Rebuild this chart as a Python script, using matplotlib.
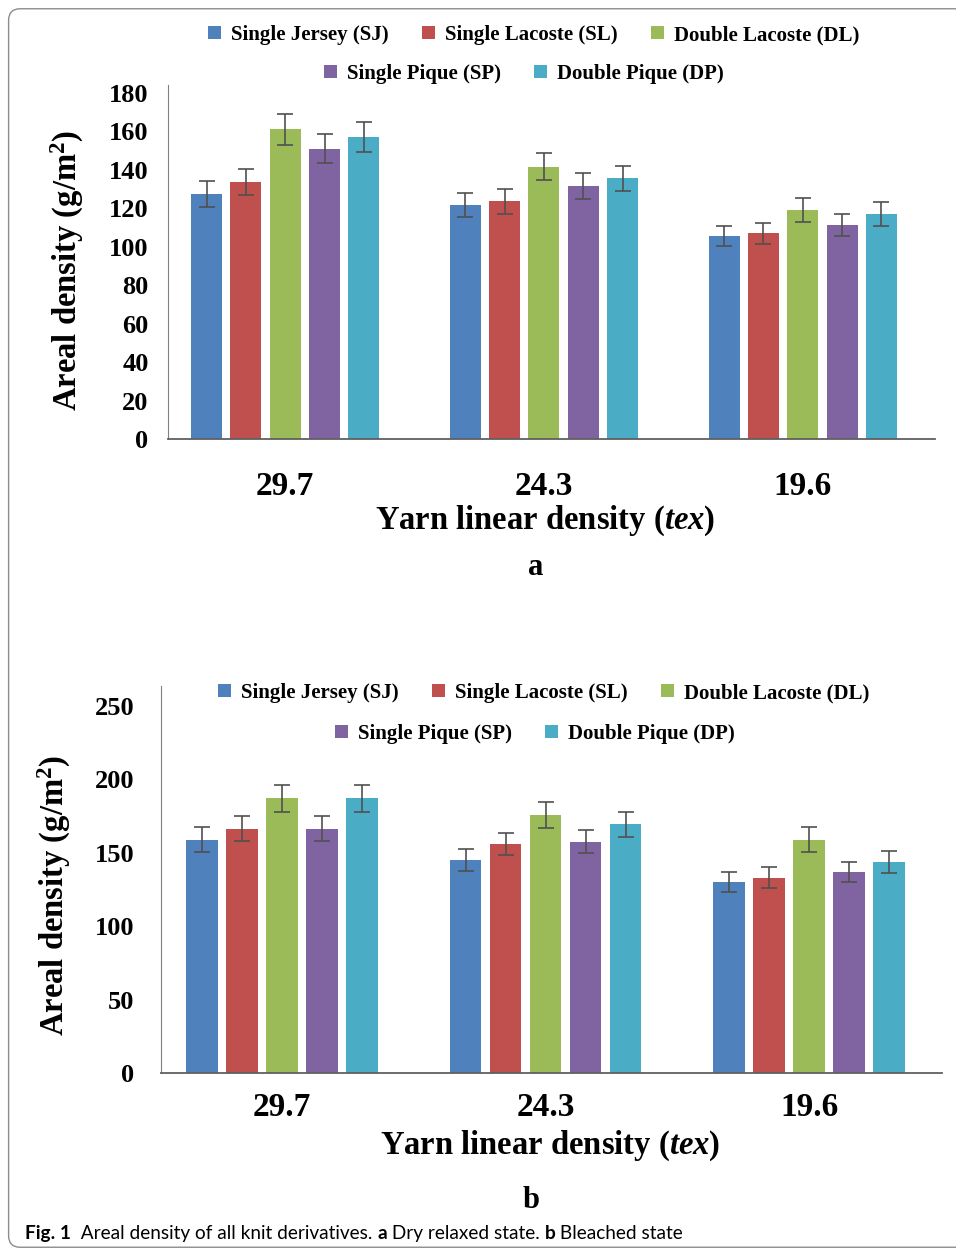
import numpy as np
import matplotlib
matplotlib.use("Agg")
import matplotlib.pyplot as plt
from matplotlib.patches import FancyBboxPatch

plt.rcParams['font.family'] = ['Liberation Serif', 'DejaVu Serif']
plt.rcParams['font.weight'] = 'bold'
plt.rcParams['mathtext.fontset'] = 'custom'
plt.rcParams['mathtext.rm'] = 'Liberation Serif:bold'
plt.rcParams['mathtext.bfit'] = 'Liberation Serif:italic:bold'
plt.rcParams['mathtext.it'] = 'Liberation Serif:italic:bold'

# yarn linear density groups (tex)
groups = ['29.7', '24.3', '19.6']
structures = ['Single Jersey (SJ)', 'Single Lacoste (SL)', 'Double Lacoste (DL)',
              'Single Pique (SP)', 'Double Pique (DP)']
colors = ['#4F81BD', '#C0504D', '#9BBB59', '#8064A2', '#4BACC6']

# (a) dry relaxed state
dry_sj = [127.5, 121.5, 105.5]
dry_sl = [133.5, 123.5, 107.0]
dry_dl = [161.0, 141.5, 119.0]
dry_sp = [151.0, 131.5, 111.5]
dry_dp = [157.0, 135.5, 117.0]
dry_err_sj = [6.8, 6.3, 5.4]
dry_err_sl = [6.7, 6.3, 5.4]
dry_err_dl = [8.2, 7.0, 6.4]
dry_err_sp = [7.5, 6.8, 5.7]
dry_err_dp = [7.9, 6.6, 6.0]

# (b) bleached state
bl_sj = [159.0, 145.0, 130.0]
bl_sl = [166.5, 156.0, 133.0]
bl_dl = [187.0, 175.5, 159.0]
bl_sp = [166.5, 157.5, 137.0]
bl_dp = [187.0, 169.5, 143.5]
bl_err_sj = [8.3, 7.5, 6.6]
bl_err_sl = [8.4, 7.8, 7.1]
bl_err_dl = [9.5, 8.8, 8.3]
bl_err_sp = [8.4, 7.7, 6.8]
bl_err_dp = [9.5, 8.6, 7.5]


def draw_panel(ax, vals, errs, ymax, yticks):
    x = np.arange(len(groups))
    bars = []
    for i in range(len(structures)):
        b = ax.bar(x + (i - 2) * 0.152, vals[i], 0.12, color=colors[i],
                   yerr=errs[i], error_kw=dict(ecolor='#505050', elinewidth=1.2,
                                               capsize=5.5, capthick=1.2),
                   label=structures[i], zorder=2)
        bars.append(b)
    ax.set_ylim(0, ymax)
    ax.set_yticks(yticks)
    ax.set_xticks(x)
    ax.set_xticklabels(groups)
    for s in ['top', 'right']:
        ax.spines[s].set_visible(False)
    ax.spines['left'].set_color('#808080')
    ax.spines['bottom'].set_color('#606060')
    ax.spines['bottom'].set_linewidth(1.3)
    ax.tick_params(length=0)
    for t in ax.get_yticklabels():
        t.set_fontsize(19)
        t.set_fontweight('bold')
    for t in ax.get_xticklabels():
        t.set_fontsize(24)
        t.set_fontweight('bold')
    return bars


fig = plt.figure(figsize=(9.56, 12.51), dpi=100)

# outer rounded frame
frame = FancyBboxPatch((0.009, 0.003), 1.1, 0.99, boxstyle="round,pad=0,rounding_size=0.012",
                       transform=fig.transFigure, facecolor='none', edgecolor='#8c8c8c',
                       linewidth=1.0, mutation_aspect=956 / 1251)
fig.patches.append(frame)

# panel a
ax1 = fig.add_axes([0.1757, 0.649, 0.802, 0.283])
bars1 = draw_panel(ax1, [dry_sj, dry_sl, dry_dl, dry_sp, dry_dp],
                   [dry_err_sj, dry_err_sl, dry_err_dl, dry_err_sp, dry_err_dp],
                   184, range(0, 181, 20))
ax1.set_xlim(-0.453, 2.51)
ax1.tick_params(axis='y', pad=14)
ax1.tick_params(axis='x', pad=23)
ax1.set_ylabel('Areal density (g/m$^2$)', fontsize=23.5, fontweight='bold')
ax1.yaxis.set_label_coords(-0.131, 0.477)
ax1.yaxis.label.set_va('center')
ax1.set_xlabel(r'Yarn linear density ($\mathbfit{tex}$)', fontsize=23.5, fontweight='bold')
ax1.xaxis.set_label_coords(0.4915, -0.232)
ax1.xaxis.label.set_va('center')
fig.text(0.56, 1 - 567 / 1251, 'a', fontsize=22, fontweight='bold', ha='center', va='center')

# panel b
ax2 = fig.add_axes([0.1684, 0.1423, 0.817, 0.3093])
bars2 = draw_panel(ax2, [bl_sj, bl_sl, bl_dl, bl_sp, bl_dp],
                   [bl_err_sj, bl_err_sl, bl_err_dl, bl_err_sp, bl_err_dp],
                   263.6, range(0, 251, 50))
ax2.set_xlim(-0.46, 2.505)
ax2.tick_params(axis='y', pad=19)
ax2.tick_params(axis='x', pad=14)
ax2.set_ylabel('Areal density (g/m$^2$)', fontsize=23.5, fontweight='bold')
ax2.yaxis.set_label_coords(-0.137, 0.46)
ax2.yaxis.label.set_va('center')
ax2.set_xlabel(r'Yarn linear density ($\mathbfit{tex}$)', fontsize=23.5, fontweight='bold')
ax2.xaxis.set_label_coords(0.498, -0.188)
ax2.xaxis.label.set_va('center')
fig.text(0.556, 1 - 1200 / 1251, 'b', fontsize=22, fontweight='bold', ha='center', va='center')

# legends, two centred rows like the Excel original
leg_kw = dict(loc='center', frameon=False, handlelength=0.6, handleheight=0.6,
              handletextpad=0.5, columnspacing=1.6, borderaxespad=0,
              prop=dict(family='Liberation Serif', weight='bold', size=15))
for bars, y1, x1, y2, x2 in [(bars1, 35, 534, 74, 524), (bars2, 693, 544, 734, 535)]:
    fig.legend(bars[:3], structures[:3], ncol=3,
               bbox_to_anchor=(x1 / 956, 1 - y1 / 1251), **leg_kw)
    fig.legend(bars[3:], structures[3:], ncol=2,
               bbox_to_anchor=(x2 / 956, 1 - y2 / 1251), **leg_kw)

# caption, pieces chained one after another
prev = fig.text(25 / 956, 1 - 1242 / 1251, 'Fig. 1', fontweight='bold', fontsize=13.7,
                family='Lato', va='bottom')
pieces = [('  Areal density of all knit derivatives. ', 'normal'), ('a', 'bold'),
          (' Dry relaxed state. ', 'normal'), ('b', 'bold'), (' Bleached state', 'normal')]
for txt, w in pieces:
    prev = ax2.annotate(txt, xy=(1, 0), xycoords=prev, va='bottom', ha='left',
                        fontweight=w, fontsize=13.7, family='Lato', annotation_clip=False)

fig.savefig('out.png', dpi=100)
